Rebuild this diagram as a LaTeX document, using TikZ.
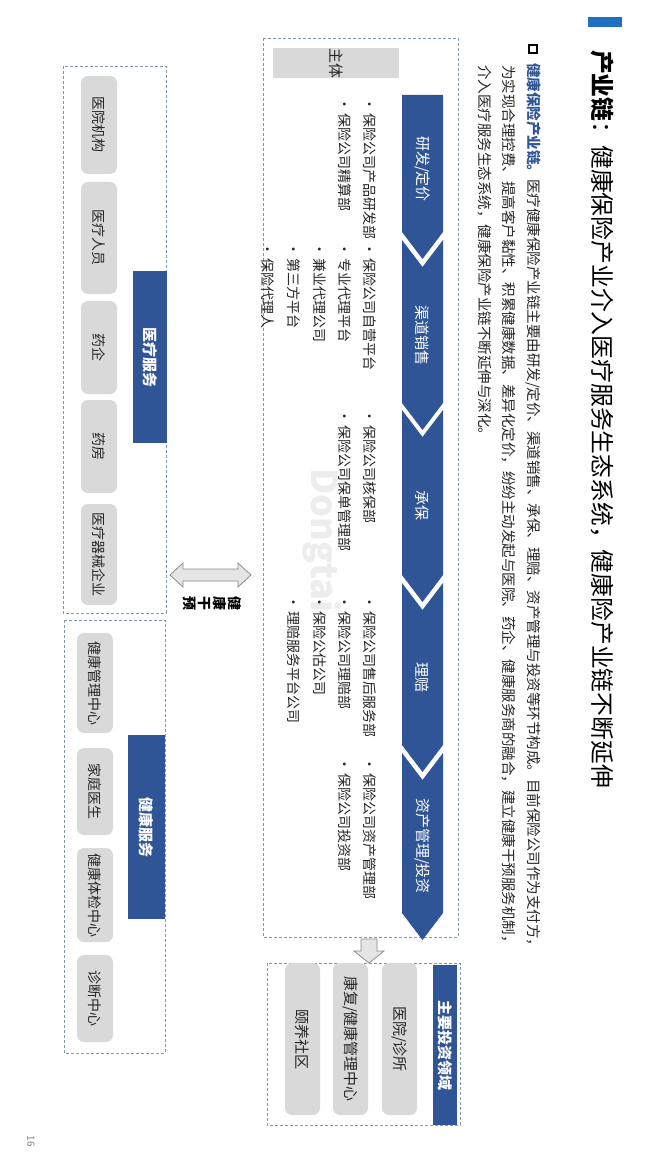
\documentclass[tikz,border=0pt]{standalone}
\usepackage{fontspec}
\setmainfont{Noto Sans CJK SC}
\usetikzlibrary{positioning}
\XeTeXlinebreaklocale "zh"
\XeTeXlinebreakskip=0pt plus 4pt

\definecolor{chainblue}{HTML}{2F5597}
\definecolor{titleblue}{HTML}{1F70C1}
\definecolor{boxgray}{HTML}{D9D9D9}
\definecolor{dashgray}{HTML}{8497B0}
\definecolor{arrowgray}{HTML}{8C8C8C}
\definecolor{textdark}{HTML}{262626}

\newcommand{\chainitem}[1]{\makebox[16pt][l]{•}#1}

\tikzset{
  vtext/.style={rotate=-90, inner sep=0pt, text=textdark, font=\fontsize{14}{16}\selectfont},
  itemtext/.style={vtext, anchor=west},
  chevron/.style={fill=chainblue},
  chevlabel/.style={vtext, text=white, font=\fontsize{15}{17}\selectfont},
  dashbox/.style={draw=dashgray, line width=0.75pt, dash pattern=on 3pt off 2pt},
  graybox/.style={vtext, fill=boxgray, rounded corners=7pt, minimum height=36pt},
  bluebar/.style={vtext, fill=chainblue, text=white, font=\bfseries\fontsize{15}{17}\selectfont},
  blockarrow/.style={fill=gray!20, draw=arrowgray, line width=0.8pt},
}

\begin{document}
\begin{tikzpicture}[x=1pt,y=-1pt]
\useasboundingbox (0,0) rectangle (660,1174);
\fill[white] (0,0) rectangle (660,1174);

% title
\fill[titleblue] (588,17) rectangle (622,27);
\node[itemtext, text=black, font=\fontsize{23.8}{26}\selectfont] (title) at (602,50)
  {\textbf{产业链}：健康保险产业介入医疗服务生态系统，健康险产业链不断延伸};

% lead paragraph
\node[draw, line width=1.5pt, minimum size=8pt, inner sep=0pt] (sq) at (533,49) {};
\node[itemtext, text width=987pt, align=justify, font=\fontsize{14.5}{17}\selectfont] (line1) at (533,63)
  {\noindent\parfillskip=0pt {\color{chainblue}\bfseries 健康保险产业链。}医疗健康保险产业链主要由研发/定价、渠道销售、承保、理赔、资产管理与投资等环节构成。目前保险公司作为支付方，};
\node[itemtext, text width=987pt, align=justify, font=\fontsize{14.5}{17}\selectfont] (line2) at (509,65)
  {\noindent\parfillskip=0pt 为实现合理控费、提高客户黏性、积累健康数据、差异化定价，纷纷主动发起与医院、药企、健康服务商的融合，建立健康干预服务机制，};
\node[itemtext, font=\fontsize{14.5}{17}\selectfont] (line3) at (485,65)
  {介入医疗服务生态系统，健康保险产业链不断延伸与深化。};

% insurance chain
\draw[dashbox] (263,38) rectangle (458,937);
\node[vtext, fill=boxgray, minimum width=29pt, minimum height=126pt, font=\fontsize{15}{17}\selectfont] (zhuti) at (336,63.5) {主体};

\fill[chevron] (402,95) -- (443,95) -- (443,232) -- (422.5,259) -- (402,232) -- cycle;
\foreach \t/\b in {240/403, 410/575, 583/745, 753/913}
  \fill[chevron] (402,\t) -- (422.5,\t+27) -- (443,\t) -- (443,\b) -- (422.5,\b+27) -- (402,\b) -- cycle;

\node[chevlabel] (yanfa) at (422.5,169) {研发/定价};
\node[chevlabel] (qudao) at (422.5,335) {渠道销售};
\node[chevlabel] (chengbao) at (422.5,505) {承保};
\node[chevlabel] (lipei) at (422.5,677) {理赔};
\node[chevlabel] (zichan) at (422.5,846) {资产管理/投资};

\node[rotate=-90, text=gray!14, font=\bfseries\fontsize{36}{36}\selectfont] (shuiyin) at (322,540) {Dongtai};

\node[itemtext] (yf1) at (370,97) {\chainitem{保险公司产品研发部}};
\node[itemtext] (yf2) at (345,97) {\chainitem{保险公司精算部}};

\node[itemtext] (qd1) at (370,242) {\chainitem{保险公司自营平台}};
\node[itemtext] (qd2) at (345,242) {\chainitem{专业代理平台}};
\node[itemtext] (qd3) at (319.5,242) {\chainitem{兼业代理公司}};
\node[itemtext] (qd4) at (294,242) {\chainitem{第三方平台}};
\node[itemtext] (qd5) at (268,242) {\chainitem{保险代理人}};

\node[itemtext] (cb1) at (370,409) {\chainitem{保险公司核保部}};
\node[itemtext] (cb2) at (345,409) {\chainitem{保险公司保单管理部}};

\node[itemtext] (lp1) at (370,595) {\chainitem{保险公司售后服务部}};
\node[itemtext] (lp2) at (345,595) {\chainitem{保险公司理赔部}};
\node[itemtext] (lp3) at (319.5,595) {\chainitem{保险公估公司}};
\node[itemtext] (lp4) at (294,595) {\chainitem{理赔服务平台公司}};

\node[itemtext] (zc1) at (370,757) {\chainitem{保险公司资产管理部}};
\node[itemtext] (zc2) at (345,757) {\chainitem{保险公司投资部}};

% arrows
\draw[blockarrow] (361,939) -- (377,939) -- (377,951) -- (384,951) -- (369,963)
  -- (354,951) -- (361,951) -- cycle;
\draw[blockarrow] (170,575) -- (183,563) -- (183,569) -- (238,569) -- (238,563)
  -- (251,575) -- (238,587) -- (238,581) -- (183,581) -- (183,587) -- cycle;
\node[rotate=-90, inner sep=0pt, align=center, font=\bfseries\fontsize{14}{15}\selectfont] (ganyu) at (212.5,603) {健\\康\\干\\预};

% medical services
\draw[dashbox] (63,66) rectangle (166,613);
\node[graybox, minimum width=98pt] (yiyuan) at (99,125) {医院机构};
\node[graybox, minimum width=112pt] (renyuan) at (99,238) {医疗人员};
\node[graybox, minimum width=93pt] (yaoqi) at (99,347.5) {药企};
\node[graybox, minimum width=93pt] (yaofang) at (99,446.5) {药房};
\node[graybox, minimum width=101pt] (qixie) at (99,554.5) {医疗器械企业};
\node[bluebar, minimum width=172pt, minimum height=34pt] (yiliao) at (150,357) {医疗服务};

% health services
\draw[dashbox] (64,620) rectangle (165,1053);
\node[graybox, minimum width=100pt] (guanli) at (95,683) {健康管理中心};
\node[graybox, minimum width=87pt] (jiating) at (95,791.5) {家庭医生};
\node[graybox, minimum width=94pt] (tijian) at (95,895) {健康体检中心};
\node[graybox, minimum width=87pt] (zhenduan) at (95,998.5) {诊断中心};
\node[bluebar, minimum width=184pt, minimum height=37pt] (jiankang) at (146.5,827) {健康服务};

% investment fields
\draw[dashbox] (267,963) rectangle (460,1125);
\node[bluebar, minimum width=160pt, minimum height=24pt] (touzi) at (445,1045) {主要投资领域};
\node[graybox, minimum width=152pt, minimum height=35pt, font=\fontsize{15}{17}\selectfont] (zhensuo) at (399.5,1039) {医院/诊所};
\node[graybox, minimum width=152pt, minimum height=35pt, font=\fontsize{15}{17}\selectfont] (kangfu) at (350.5,1039) {康复/健康管理中心};
\node[graybox, minimum width=152pt, minimum height=35pt, font=\fontsize{15}{17}\selectfont] (yiyang) at (302.5,1039) {颐养社区};

\node[rotate=-90, text=gray, font=\fontsize{10}{12}\selectfont] (yema) at (31,1141) {16};
\end{tikzpicture}
\end{document}
